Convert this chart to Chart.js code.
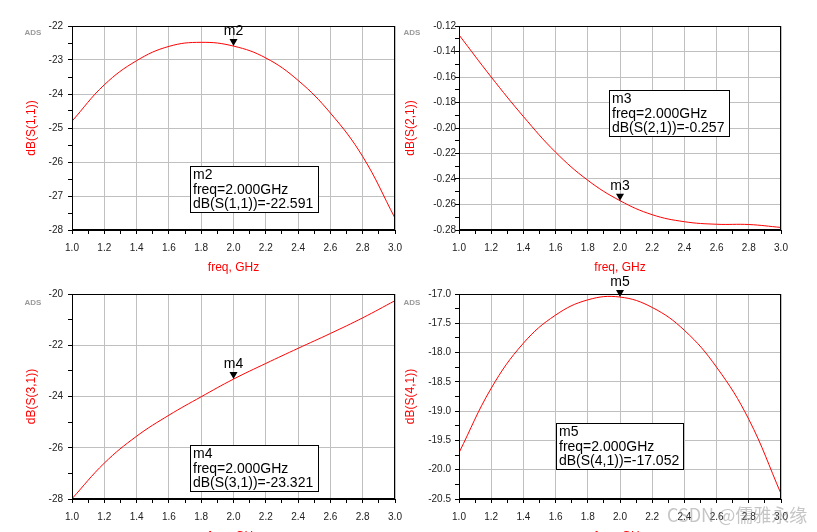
<!DOCTYPE html>
<html>
<head>
<meta charset="utf-8">
<script src="https://cdn.jsdelivr.net/npm/chart.js@4/dist/chart.umd.min.js"></script>
<style>
html, body { margin: 0; padding: 0; background: #fff; width: 817px; height: 532px; overflow: hidden; }
canvas { position: absolute; }
#wm { position: absolute; left: 667px; top: 501px; font: 18px "Noto Sans CJK SC", sans-serif; color: rgba(150,150,150,0.55); white-space: nowrap; }
</style>
</head>
<body>
<canvas id="c1" width="412" height="281" style="left:0;top:0"></canvas>
<canvas id="c2" width="417" height="281" style="left:400px;top:0"></canvas>
<canvas id="c3" width="412" height="280" style="left:0;top:270px"></canvas>
<canvas id="c4" width="417" height="280" style="left:400px;top:270px"></canvas>
<div id="wm">CSDN @儒雅永缘</div>
<script>
// frequency points, GHz
const freq = [1.0, 1.2, 1.4, 1.6, 1.8, 2.0, 2.2, 2.4, 2.6, 2.8, 3.0];

// (dB)
const s11 = [-24.8, -23.73, -23.02, -22.6, -22.48, -22.591, -22.94, -23.6, -24.56, -25.84, -27.65];
const s21 = [-0.127, -0.160, -0.191, -0.219, -0.241, -0.257, -0.268, -0.2735, -0.2755, -0.2757, -0.278];
const s31 = [-27.99, -26.6, -25.55, -24.73, -24.01, -23.321, -22.71, -22.12, -21.54, -20.93, -20.26];
const s41 = [-19.71, -18.61, -17.84, -17.36, -17.10, -17.052, -17.23, -17.62, -18.25, -19.14, -20.41];

// axis ranges: [min, max, minor step, decimals]
const xAxis = [1.0, 3.0, 0.1, 1];
const s11Axis = [-28, -22, 0.5, 0];
const s21Axis = [-0.28, -0.12, 0.01, 2];
const s31Axis = [-28, -20, 1, 0];
const s41Axis = [-20.5, -17.0, 0.25, 1];

const RED = '#ff0000';
Chart.defaults.font.family = '"Liberation Sans", Arial, sans-serif';

function tickList(ax) {
  const n = Math.round((ax[1] - ax[0]) / ax[2]);
  const out = [];
  for (let i = 0; i <= n; i++) out.push({ value: +(ax[0] + i * ax[2]).toFixed(6) });
  return out;
}

// frame, minor ticks are in the scales; this adds the box, marker and ADS tag
const adsDeco = {
  id: 'adsDeco',
  afterDraw(chart, args, o) {
    const { ctx, chartArea: a, scales: { x, y } } = chart;
    ctx.save();
    ctx.strokeStyle = '#000';
    ctx.lineWidth = 1;
    ctx.strokeRect(Math.round(a.left) + 0.5, Math.round(a.top) + 0.5,
      Math.round(a.right - a.left) - 1, Math.round(a.bottom - a.top) - 1);

    ctx.fillStyle = '#9a9a9a';
    ctx.font = 'bold 8px "Liberation Sans", Arial';
    ctx.textAlign = 'center';
    ctx.textBaseline = 'middle';
    ctx.fillText('ADS', o.adsX, 33);

    // marker triangle + name
    const px = x.getPixelForValue(o.mx), py = y.getPixelForValue(o.my);
    ctx.fillStyle = '#000';
    ctx.beginPath();
    ctx.moveTo(px, py);
    ctx.lineTo(px - 4, py - 7);
    ctx.lineTo(px + 4, py - 7);
    ctx.closePath();
    ctx.fill();
    ctx.font = '14px "Liberation Sans", Arial';
    ctx.textBaseline = 'alphabetic';
    ctx.fillText(o.name, px, py - 11);

    // readout box
    const b = o.box;
    ctx.fillStyle = '#fff';
    ctx.fillRect(b[0], b[1], b[2], b[3]);
    ctx.strokeRect(b[0] + 0.5, b[1] + 0.5, b[2], b[3]);
    ctx.fillStyle = '#000';
    ctx.textAlign = 'left';
    ctx.fillText(o.name, b[0] + 3, b[1] + 13);
    ctx.fillText('freq=2.000GHz', b[0] + 3, b[1] + 28);
    ctx.fillText(o.label + '=' + o.my.toFixed(3), b[0] + 3, b[1] + 42);
    ctx.restore();
  }
};

function makeChart(id, ys, yAx, o) {
  const pts = freq.map((f, i) => ({ x: f, y: ys[i] }));
  return new Chart(document.getElementById(id), {
    type: 'line',
    data: { datasets: [{ data: pts, borderColor: RED, borderWidth: 1, pointRadius: 0, tension: 0.4, fill: false }] },
    options: {
      responsive: false,
      animation: false,
      layout: { padding: { left: 0, top: o.padTop, right: o.padRight, bottom: 0 } },
      plugins: {
        legend: { display: false },
        tooltip: { enabled: false },
        adsDeco: o
      },
      scales: {
        x: {
          type: 'linear', min: xAxis[0], max: xAxis[1],
          afterBuildTicks: s => { s.ticks = tickList(xAxis); },
          afterFit: s => { s.height = 51; },
          ticks: {
            autoSkip: false, maxRotation: 0, padding: 8, color: '#222',
            font: { size: 10 },
            callback: (v, i) => i % 2 ? '' : v.toFixed(xAxis[3])
          },
          grid: {
            color: c => c.index % 2 ? 'rgba(0,0,0,0)' : '#c0c0c0',
            tickColor: '#000', tickLength: 4
          },
          border: { color: '#000' },
          title: { display: true, text: 'freq, GHz', color: RED, font: { size: 12 }, padding: { top: 0, bottom: 6 } }
        },
        y: {
          type: 'linear', min: yAx[0], max: yAx[1],
          afterBuildTicks: s => { s.ticks = tickList(yAx); },
          afterFit: s => { s.width = o.yWidth; },
          ticks: {
            autoSkip: false, padding: o.labPad, color: '#222',
            font: { size: 10 },
            callback: (v, i) => i % 2 ? '' : v.toFixed(yAx[3])
          },
          grid: {
            color: c => c.index % 2 ? 'rgba(0,0,0,0)' : '#c0c0c0',
            tickColor: '#000', tickLength: 4
          },
          border: { color: '#000' },
          title: { display: true, text: o.label, color: RED, font: { size: 12 }, padding: { top: o.titlePad, bottom: 0 } }
        }
      }
    },
    plugins: [adsDeco]
  });
}

makeChart('c1', s11, s11Axis, { name: 'm2', label: 'dB(S(1,1))', mx: 2.0, my: s11[5], box: [190, 166, 128, 46],
  adsX: 33, padTop: 26, padRight: 17, yWidth: 72, labPad: 5, titlePad: 24 });
makeChart('c2', s21, s21Axis, { name: 'm3', label: 'dB(S(2,1))', mx: 2.0, my: s21[5], box: [209, 90, 120, 46],
  adsX: 12, padTop: 26, padRight: 36, yWidth: 59, labPad: -1, titlePad: 3 });
makeChart('c3', s31, s31Axis, { name: 'm4', label: 'dB(S(3,1))', mx: 2.0, my: s31[5], box: [190, 175, 128, 46],
  adsX: 33, padTop: 24, padRight: 17, yWidth: 72, labPad: 5, titlePad: 24 });
makeChart('c4', s41, s41Axis, { name: 'm5', label: 'dB(S(4,1))', mx: 2.0, my: s41[5], box: [156, 153, 127, 46],
  adsX: 12, padTop: 24, padRight: 36, yWidth: 59, labPad: 4, titlePad: 3 });
</script>
</body>
</html>
